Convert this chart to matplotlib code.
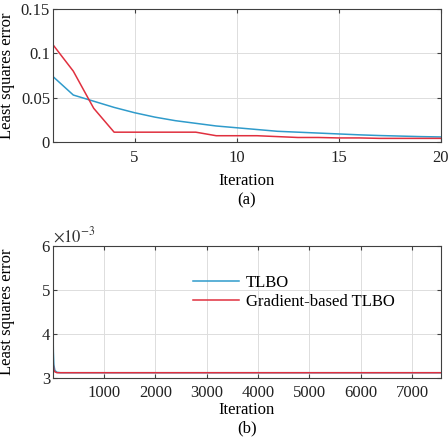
import matplotlib
matplotlib.use("Agg")
import matplotlib.pyplot as plt
from matplotlib.ticker import FixedLocator

# top panel: first 20 iterations
iters_a = list(range(1, 21))
tlbo_a = [0.074, 0.053, 0.046, 0.039, 0.033, 0.028, 0.024, 0.021, 0.018, 0.016,
          0.014, 0.012, 0.011, 0.010, 0.009, 0.008, 0.0072, 0.0066, 0.006, 0.0056]
grad_a = [0.110, 0.080, 0.038, 0.011, 0.011, 0.011, 0.011, 0.011, 0.007, 0.007,
          0.007, 0.006, 0.005, 0.005, 0.0045, 0.0045, 0.004, 0.004, 0.004, 0.004]

# bottom panel: full run (values in units of 1e-3)
iters_b = [1, 3, 6, 10, 20, 40, 80, 150, 300, 1000, 7560]
tlbo_b = [5.35, 4.6, 3.95, 3.6, 3.3, 3.17, 3.13, 3.12, 3.12, 3.12, 3.12]
grad_b = [3.95, 3.7, 3.45, 3.3, 3.18, 3.14, 3.12, 3.12, 3.12, 3.12, 3.12]

blue = "#2f9bcb"
red = "#e0303f"
edge = "#404040"

plt.rcParams["font.family"] = ["Liberation Serif", "DejaVu Serif"]
plt.rcParams["mathtext.fontset"] = "stix"
plt.rcParams["font.size"] = 12

fig = plt.figure(figsize=(4.48, 4.38), dpi=100)
ax1 = fig.add_axes([0.118, 0.676, 0.866, 0.303])
ax2 = fig.add_axes([0.118, 0.137, 0.866, 0.301])

for ax in (ax1, ax2):
    for s in ax.spines.values():
        s.set_color(edge)
        s.set_linewidth(0.8)
    ax.tick_params(direction="in", length=3, colors=edge, labelcolor="#222222",
                   top=True, right=True, labelsize=12)
    ax.tick_params(axis="y", pad=2)
    ax.grid(True, color="#dddddd", linewidth=0.7)
    ax.set_axisbelow(True)

ax1.plot(iters_a, tlbo_a, color=blue, lw=1.1)
ax1.plot(iters_a, grad_a, color=red, lw=1.1)
ax1.set_xlim(1, 20)
ax1.set_ylim(0, 0.15)
ax1.xaxis.set_major_locator(FixedLocator([5, 10, 15, 20]))
ax1.tick_params(axis="x", pad=6)
ax1.set_yticks([0, 0.05, 0.1, 0.15])
ax1.set_yticklabels(["0", "0.05", "0.1", "0.15"])
ax1.set_xlabel("Iteration\n(a)", labelpad=5, linespacing=1.3)
ax1.set_ylabel("Least squares error")
ax1.yaxis.set_label_coords(-0.098, 0.5)

ax2.plot(iters_b, tlbo_b, color=blue, lw=1.1, label="TLBO")
ax2.plot(iters_b, grad_b, color=red, lw=1.1, label="Gradient-based TLBO")
ax2.set_xlim(1, 7560)
ax2.set_ylim(3, 6)
ax2.set_xticks([1000, 2000, 3000, 4000, 5000, 6000, 7000])
ax2.tick_params(axis="x", pad=5)
ax2.set_yticks([3, 4, 5, 6])
ax2.set_yticklabels(["3", "4", "5", "6"])
ax2.set_xlabel("Iteration\n(b)", labelpad=1, linespacing=1.15)
ax2.set_ylabel("Least squares error")
ax2.yaxis.set_label_coords(-0.098, 0.5)
ax2.text(0.0, 1.005, r"$\times10^{-3}$", transform=ax2.transAxes, fontsize=12,
         ha="left", va="bottom", color="#333333")
ax2.legend(loc="upper left", bbox_to_anchor=(0.33, 0.87), frameon=False,
           fontsize=12, handlelength=2.8, handletextpad=0.4,
           labelspacing=0.2, borderpad=0.2)

fig.savefig("out.png", dpi=100)
